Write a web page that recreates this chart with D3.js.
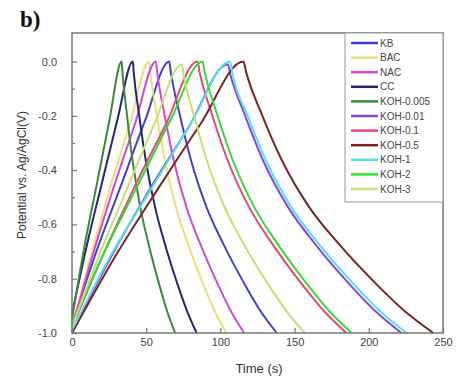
<!DOCTYPE html>
<html>
<head>
<meta charset="utf-8">
<script src="https://cdn.jsdelivr.net/npm/d3@7"></script>
<style>
  body { margin: 0; background: #fff; }
  svg { display: block; font-family: "Liberation Sans", Arial, sans-serif; }
</style>
</head>
<body>
<svg id="chart" width="459" height="381"></svg>
<script>
// galvanostatic charge/discharge curves, [time (s), potential (V)]
const KB = [[0,-0.97],[16.4,-0.70],[32.8,-0.46],[49.1,-0.22],[65.5,0],[66.6,-0.04],[72.8,-0.2],[80,-0.36],[90.9,-0.54],[101.8,-0.67],[116.3,-0.82],[127.1,-0.92],[138,-1.0]];
const BAC = [[0,-0.98],[13,-0.71],[26,-0.46],[39,-0.23],[52,0],[52.8,-0.04],[57.2,-0.2],[62.4,-0.36],[70.2,-0.54],[78,-0.67],[88.4,-0.82],[96.2,-0.92],[104,-1.0]];
const NAC = [[0,-0.98],[14.1,-0.71],[28.3,-0.46],[42.4,-0.23],[56.5,0],[57.4,-0.04],[62.5,-0.2],[68.4,-0.36],[77.3,-0.54],[86.3,-0.67],[98.2,-0.82],[107.1,-0.92],[116,-1.0]];
const CC = [[0,-0.93],[10.3,-0.67],[20.5,-0.44],[30.8,-0.21],[41,0],[41.6,-0.04],[45.3,-0.2],[49.6,-0.36],[56.1,-0.54],[62.5,-0.67],[71.1,-0.82],[77.6,-0.92],[84,-1.0]];
const KOH0005 = [[0,-0.95],[8.4,-0.68],[16.8,-0.45],[25.1,-0.22],[33.5,0],[34,-0.04],[37.1,-0.2],[40.7,-0.36],[46.1,-0.54],[51.5,-0.67],[58.7,-0.82],[64.1,-0.92],[69.5,-1.0]];
const KOH001 = [[0,-1.0],[26.3,-0.72],[52.5,-0.47],[78.8,-0.24],[105,-0.01],[106.8,-0.05],[116.7,-0.2],[128.4,-0.36],[146,-0.54],[163.5,-0.67],[186.9,-0.82],[204.5,-0.92],[222,-1.0]];
const KOH01 = [[0,-0.98],[21.1,-0.71],[42.3,-0.46],[63.4,-0.23],[84.5,0],[86,-0.04],[94.6,-0.2],[104.6,-0.36],[119.7,-0.54],[134.8,-0.67],[154.9,-0.82],[169.9,-0.92],[185,-1.0]];
const KOH05 = [[0,-1.0],[28.9,-0.72],[57.8,-0.47],[86.6,-0.23],[115.5,0],[117.4,-0.04],[128.3,-0.2],[141.1,-0.36],[160.3,-0.54],[179.5,-0.67],[205.1,-0.82],[224.3,-0.92],[243.5,-1.0]];
const KOH1 = [[0,-0.99],[26.6,-0.71],[53.3,-0.47],[79.9,-0.23],[106.5,0],[108.3,-0.05],[118.4,-0.2],[130.3,-0.36],[148.2,-0.54],[166,-0.67],[189.8,-0.82],[207.7,-0.92],[225.5,-1.0]];
const KOH2 = [[0,-0.97],[22,-0.70],[44,-0.46],[66,-0.22],[88,0],[89.5,-0.04],[98.1,-0.2],[108.1,-0.36],[123.2,-0.54],[138.3,-0.67],[158.4,-0.82],[173.4,-0.92],[188.5,-1.0]];
const KOH3 = [[0,-0.98],[18.5,-0.71],[37,-0.47],[55.5,-0.23],[74,-0.01],[75.2,-0.05],[82.3,-0.2],[90.6,-0.36],[103.1,-0.54],[115.5,-0.67],[132.1,-0.82],[144.6,-0.92],[157,-1.0]];

const seriesNames = ["KB", "BAC", "NAC", "CC", "KOH-0.005", "KOH-0.01", "KOH-0.1", "KOH-0.5", "KOH-1", "KOH-2", "KOH-3"];
const seriesData = [KB, BAC, NAC, CC, KOH0005, KOH001, KOH01, KOH05, KOH1, KOH2, KOH3];
const xTicks = [0, 50, 100, 150, 200, 250];
const yTicks = [-1.0, -0.8, -0.6, -0.4, -0.2, 0.0];
const yMinorTicks = [-0.9, -0.7, -0.5, -0.3, -0.1];

const colors = ["#4242c8", "#e6e27a", "#d448d4", "#26266e", "#3a8a3a", "#8e44d8", "#e4487e", "#7a2424", "#4fe2f0", "#34dc34", "#c4e270"];

const svg = d3.select("#chart");
const mLeft = 72, mRight = 443, mTop = 33, mBottom = 333;

const x = d3.scaleLinear().domain([0, 250]).range([mLeft, mRight]);
const y = d3.scaleLinear().domain([-1.0, 0.105]).range([mBottom, mTop]);

// panel label
svg.append("text")
  .attr("x", 20).attr("y", 27)
  .attr("font-family", "'Liberation Serif', 'Times New Roman', serif")
  .attr("font-weight", "bold")
  .attr("font-size", 23)
  .attr("fill", "#111")
  .text("b)");

// curves
const line = d3.line()
  .x(d => x(d[0]))
  .y(d => y(d[1]))
  .curve(d3.curveMonotoneX);

const plot = svg.append("g");
seriesData.forEach((s, i) => {
  plot.append("path")
    .datum(s)
    .attr("fill", "none")
    .attr("stroke", colors[i])
    .attr("stroke-width", 2)
    .attr("d", line);
});

// axes, ticks pointing inward
const xAxis = svg.append("g")
  .attr("transform", "translate(0," + mBottom + ")")
  .call(d3.axisBottom(x).tickValues(xTicks).tickSize(-5).tickPadding(5).tickFormat(d3.format("d")));

const yAxis = svg.append("g")
  .attr("transform", "translate(" + mLeft + ",0)")
  .call(d3.axisLeft(y).tickValues(yTicks).tickSize(-5).tickPadding(15).tickFormat(d => d.toFixed(1)));

svg.append("g")
  .attr("transform", "translate(" + mLeft + ",0)")
  .call(d3.axisLeft(y).tickValues(yMinorTicks).tickSize(-3).tickFormat(""))
  .select(".domain").remove();

[xAxis, yAxis].forEach(a => {
  a.select(".domain").remove();
  a.selectAll(".tick text").attr("fill", "#444").attr("font-size", 11)
    .attr("font-family", "'Liberation Sans', Arial, sans-serif");
});
svg.selectAll(".tick line").attr("stroke", "#777").attr("stroke-width", 1.2);

// frame
svg.append("rect")
  .attr("x", mLeft).attr("y", mTop)
  .attr("width", mRight - mLeft).attr("height", mBottom - mTop)
  .attr("fill", "none")
  .attr("stroke", "#777")
  .attr("stroke-width", 1.5);

// axis titles
svg.append("text")
  .attr("x", 259).attr("y", 373)
  .attr("text-anchor", "middle")
  .attr("font-size", 13)
  .attr("fill", "#333")
  .text("Time (s)");

svg.append("text")
  .attr("transform", "translate(26,175) rotate(-90)")
  .attr("text-anchor", "middle")
  .attr("font-size", 12)
  .attr("fill", "#333")
  .text("Potential vs. Ag/AgCl(V)");

// legend
const legend = svg.append("g");
legend.append("rect")
  .attr("x", 345).attr("y", mTop)
  .attr("width", mRight - 345).attr("height", 169)
  .attr("fill", "#fff")
  .attr("stroke", "#999")
  .attr("stroke-width", 1);

seriesNames.forEach((name, i) => {
  const ly = 43 + i * 14.6;
  legend.append("line")
    .attr("x1", 351).attr("x2", 378)
    .attr("y1", ly).attr("y2", ly)
    .attr("stroke", colors[i])
    .attr("stroke-width", 2.5);
  legend.append("text")
    .attr("x", 380).attr("y", ly + 3.5)
    .attr("font-size", 10)
    .attr("fill", "#444")
    .text(name);
});
</script>
</body>
</html>
